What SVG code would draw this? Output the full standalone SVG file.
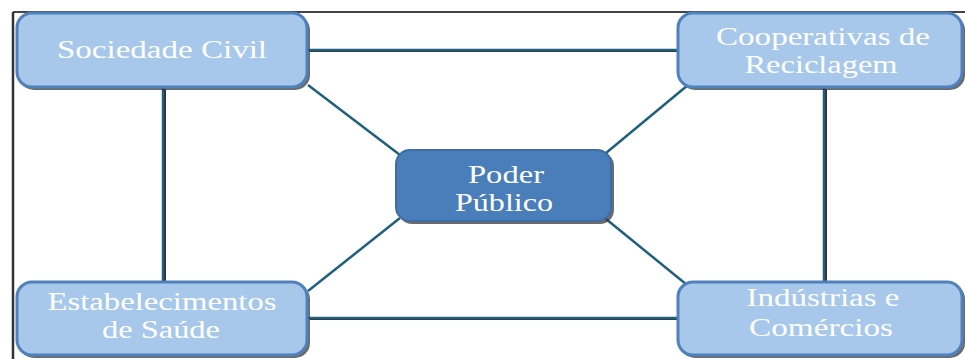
<svg xmlns="http://www.w3.org/2000/svg" width="965" height="359" viewBox="0 0 965 359">
<style>
.box{fill:#a7c8eb;stroke:#4f81bd;stroke-width:3}
.center{fill:#4a7ebb;stroke:#3d6da6;stroke-width:2}
.shadow{fill:#3a3a3a;opacity:0.75}
.lbl{font-family:"Liberation Serif","Times New Roman",serif;font-size:25px;fill:#ffffff;text-anchor:middle}
.conn{stroke:#1f5f7f;stroke-width:2.5;fill:none}
.connsh{stroke:#000000;stroke-width:2;fill:none;opacity:0.8}
</style>
<rect width="965" height="359" fill="#ffffff"/>
<g id="frame">
<line x1="13" y1="12" x2="965" y2="12" stroke="#444" stroke-width="2"/>
<line x1="13" y1="12" x2="13" y2="359" stroke="#333" stroke-width="2.5"/>
</g>
<g id="connectors">
<g transform="translate(2,1)">
<line class="connsh" x1="308" y1="50" x2="678" y2="50"/>
<line class="connsh" x1="308" y1="318" x2="678" y2="318"/>
<line class="connsh" x1="163" y1="88" x2="163" y2="282"/>
<line class="connsh" x1="824" y1="88" x2="824" y2="282"/>
</g>
<line class="conn" x1="308" y1="50" x2="678" y2="50"/>
<line class="conn" x1="308" y1="318" x2="678" y2="318"/>
<line class="conn" x1="163" y1="88" x2="163" y2="282"/>
<line class="conn" x1="824" y1="88" x2="824" y2="282"/>
<line class="conn" x1="308" y1="85" x2="400" y2="155"/>
<line class="conn" x1="688" y1="85" x2="606" y2="153"/>
<line class="conn" x1="308" y1="291" x2="400" y2="218"/>
<line class="conn" x1="606" y1="219" x2="692" y2="289"/>
</g>
<g id="sociedade">
<rect class="shadow" x="19" y="15" width="291" height="75" rx="15"/>
<rect class="box" x="17" y="13" width="290" height="74" rx="15"/>
<text class="lbl" x="162" y="58" textLength="210" lengthAdjust="spacingAndGlyphs">Sociedade  Civil</text>
</g>
<g id="cooperativas">
<rect class="shadow" x="680" y="15" width="285" height="75" rx="15"/>
<rect class="box" x="678" y="13" width="284" height="74" rx="15"/>
<text class="lbl" x="823" y="45" textLength="214" lengthAdjust="spacingAndGlyphs">Cooperativas  de</text>
<text class="lbl" x="821" y="73" textLength="153" lengthAdjust="spacingAndGlyphs">Reciclagem</text>
</g>
<g id="poder">
<rect class="shadow" x="398" y="152" width="216" height="72" rx="14"/>
<rect class="center" x="396" y="150" width="215" height="71" rx="14"/>
<text class="lbl" x="506" y="183" textLength="76" lengthAdjust="spacingAndGlyphs">Poder</text>
<text class="lbl" x="504" y="211" textLength="98" lengthAdjust="spacingAndGlyphs">Público</text>
</g>
<g id="estabelecimentos">
<rect class="shadow" x="19" y="284" width="291" height="74" rx="15"/>
<rect class="box" x="17" y="282" width="290" height="73" rx="15"/>
<text class="lbl" x="162" y="310" textLength="229" lengthAdjust="spacingAndGlyphs">Estabelecimentos</text>
<text class="lbl" x="161" y="338" textLength="118" lengthAdjust="spacingAndGlyphs">de Saúde</text>
</g>
<g id="industrias">
<rect class="shadow" x="680" y="284" width="285" height="74" rx="15"/>
<rect class="box" x="678" y="282" width="284" height="73" rx="15"/>
<text class="lbl" x="823" y="306" textLength="153" lengthAdjust="spacingAndGlyphs">Indústrias  e</text>
<text class="lbl" x="821" y="336" textLength="144" lengthAdjust="spacingAndGlyphs">Comércios</text>
</g>
</svg>
